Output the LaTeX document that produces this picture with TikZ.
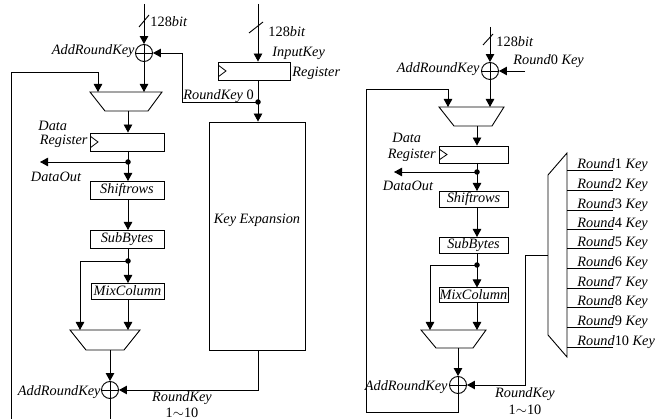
\documentclass[tikz,border=0pt]{standalone}
\usepackage{fontspec}
\setmainfont{Liberation Serif}
\usetikzlibrary{arrows.meta}
\tikzset{
  arr/.style={-{Triangle[length=8pt,width=8.5pt]}},
  blk/.style={draw,line width=0.9pt,inner sep=0pt,font=\itshape},
  reg/.style={blk,path picture={\draw[line width=0.8pt] ([yshift=-3pt]path picture bounding box.north west) -- ([xshift=8pt]path picture bounding box.west) -- ([yshift=3pt]path picture bounding box.south west);}},
  xor/.style={circle,draw,line width=0.9pt,minimum size=17pt,inner sep=0pt,path picture={\draw[line width=0.9pt] (path picture bounding box.north) -- (path picture bounding box.south) (path picture bounding box.west) -- (path picture bounding box.east);}},
  dot/.style={circle,fill,inner sep=0pt,minimum size=5.5pt},
  txt/.style={inner sep=0pt,font=\itshape},
}
\begin{document}
\begin{tikzpicture}[x=1pt,y=-1pt,line width=0.9pt]
\fontsize{14.3}{16}\selectfont
\useasboundingbox (0,0) rectangle (658,419);
% ================= LEFT =================
\coordinate (in1) at (144,4);
\node[xor] (x1) at (144,53) {};
\draw[arr] (in1) -- (x1);
\draw (139,27) -- (149,15);
\node[txt,anchor=base west] (t128a) at (150,27) {\upshape 128\textit{bit}};
\node[txt,anchor=base east] (tark1) at (135,55) {AddRoundKey};
% key register
\coordinate (in2) at (258,4);
\node[reg,minimum width=72pt,minimum height=18pt] (kreg) at (254,71) {};
\draw[arr] (in2) -- (in2 |- kreg.north);
\draw (249,33) -- (263,22);
\node[txt,anchor=base west] (t128b) at (268,37) {\upshape 128\textit{bit}};
\node[txt,anchor=base west] (tink) at (272,57) {InputKey};
\node[txt,anchor=base west] (treg1) at (292,77) {Register};
\node[dot] (d1) at (258,102) {};
\node[blk,minimum width=96pt,minimum height=228pt] (kexp) at (257,236) {};
\node[txt] (tkexp) at (257,220) {Key Expansion};
\draw (in2 |- kreg.south) -- (d1.center);
\draw[arr] (d1.center) -- (in2 |- kexp.north);
\draw[arr] (d1.center) -- (182,102) -- (182,53) -- (x1.east);
\node[txt,anchor=base west] (trk0) at (183,100) {RoundKey\upshape\ 0};
% mux1
\coordinate (m1l) at (98,92);
\coordinate (m1r) at (144,92);
\coordinate (m1o) at (128,111);
\draw (90,92) -- (162,92) -- (148,111) -- (105,111) -- cycle;
\draw[arr] (x1.south) -- (m1r);
\coordinate (fb1) at (11,419);
\draw[arr] (fb1) -- (11,72) -- (98,72) -- (m1l);
% data register
\node[reg,minimum width=74pt,minimum height=18pt] (dreg) at (127,142) {};
\draw[arr] (m1o) -- (m1o |- dreg.north);
\node[txt,anchor=base west] (tdata1) at (38,131) {Data};
\node[txt,anchor=base east] (tdreg1) at (88,145) {Register};
\node[dot] (d2) at (128,162) {};
\draw (128,151) -- (d2.center);
\coordinate (out1) at (40,162);
\draw[arr] (d2.center) -- (out1);
\node[txt] (tdo1) at (56,177) {DataOut};
\node[blk,minimum width=74pt,minimum height=18pt] (sh1) at (127,190) {Shiftrows};
\draw[arr] (d2.center) -- (128,181);
\node[blk,minimum width=74pt,minimum height=18pt] (sb1) at (127,239) {SubBytes};
\draw[arr] (128,199) -- (128,230);
\node[dot] (d3) at (128,261) {};
\draw (128,248) -- (d3.center);
\node[blk,minimum width=73pt,minimum height=16pt] (mc1) at (127.5,291) {MixColumn};
\draw[arr] (d3.center) -- (128,283);
% mux2
\coordinate (m2l) at (80,330);
\coordinate (m2r) at (128,330);
\coordinate (m2o) at (110,350);
\draw (70,330) -- (140,330) -- (124,350) -- (86,350) -- cycle;
\draw[arr] (d3.center) -- (80,261) -- (m2l);
\draw[arr] (128,299) -- (m2r);
\node[xor] (x2) at (110,390) {};
\draw[arr] (m2o) -- (x2.north);
\node[txt,anchor=base east] (tark2) at (101,395) {AddRoundKey};
\draw[arr] (258,350) -- (258,390) -- (x2.east);
\node[txt,anchor=base] (trk1) at (182,401) {RoundKey};
\node[inner sep=0pt,anchor=base] (t110a) at (182,417) {1$\sim$10};
\coordinate (bot1) at (110,419);
\draw (x2.south) -- (bot1);
% ================= RIGHT =================
\coordinate (in3) at (490,27);
\node[xor] (x3) at (490,71) {};
\draw[arr] (in3) -- (x3);
\draw (483,45) -- (493,34);
\node[txt,anchor=base west] (t128c) at (496,47) {\upshape 128\textit{bit}};
\node[txt,anchor=base east] (tark3) at (480,73) {AddRoundKey};
\node[txt,anchor=base west] (tr0) at (513,65) {Round\upshape 0 \textit{Key}};
\coordinate (rk0) at (525,71);
\draw[arr] (rk0) -- (x3.east);
% mux3
\coordinate (m3l) at (448,107);
\coordinate (m3r) at (490,107);
\coordinate (m3o) at (477,126);
\draw (439,107) -- (504,107) -- (492,126) -- (454,126) -- cycle;
\draw[arr] (x3.south) -- (m3r);
% data register
\node[reg,minimum width=69pt,minimum height=17pt] (dreg2) at (473.5,154.5) {};
\draw[arr] (m3o) -- (m3o |- dreg2.north);
\node[txt,anchor=base west] (tdata2) at (392,143) {Data};
\node[txt,anchor=base east] (tdreg2) at (436,159) {Register};
\node[dot] (d4) at (477,172) {};
\draw (477,163) -- (d4.center);
\coordinate (out2) at (394,172);
\draw[arr] (d4.center) -- (out2);
\node[txt] (tdo2) at (408,186) {DataOut};
\node[blk,minimum width=69pt,minimum height=16pt] (sh2) at (473.5,199) {Shiftrows};
\draw[arr] (d4.center) -- (477,191);
\node[blk,minimum width=69pt,minimum height=16pt] (sb2) at (473.5,245) {SubBytes};
\draw[arr] (477,207) -- (477,237);
\node[dot] (d5) at (477,265) {};
\draw (477,253) -- (d5.center);
\node[blk,minimum width=69pt,minimum height=15pt] (mc2) at (473.5,295) {MixColumn};
\draw[arr] (d5.center) -- (477,287.5);
% mux4
\coordinate (m4l) at (430,330);
\coordinate (m4r) at (477,330);
\coordinate (m4o) at (458,348);
\draw (421,330) -- (486,330) -- (473,348) -- (436,348) -- cycle;
\draw[arr] (d5.center) -- (430,265) -- (m4l);
\draw[arr] (477,302.5) -- (m4r);
\node[xor] (x4) at (458,385) {};
\draw[arr] (m4o) -- (x4.north);
\node[txt,anchor=base east] (tark4) at (448,390) {AddRoundKey};
\draw[arr] (x4.south) -- (458,412) -- (366,412) -- (366,89) -- (448,89) -- (m3l);
% big mux
\draw (548,175) -- (567,153) -- (567,357) -- (548,335) -- cycle;
\coordinate (bmo) at (548,255);
\draw[arr] (bmo) -- (525,255) -- (525,385) -- (x4.east);
\node[txt,anchor=base] (trk2) at (525,397) {RoundKey};
\node[inner sep=0pt,anchor=base] (t110b) at (525,414.5) {1$\sim$10};
\foreach \i/\y in {1/170,2/190,3/210,4/229,5/248,6/268,7/288,8/307,9/327,10/347}{
  \coordinate (k\i) at (567,\y);
  \coordinate (ke\i) at (613,\y);
  \draw (k\i) -- (ke\i);
  \node[txt,anchor=base west] (tk\i) at (577,\y-1.5) {Round\upshape\i\ \textit{Key}};
}
\end{tikzpicture}
\end{document}
